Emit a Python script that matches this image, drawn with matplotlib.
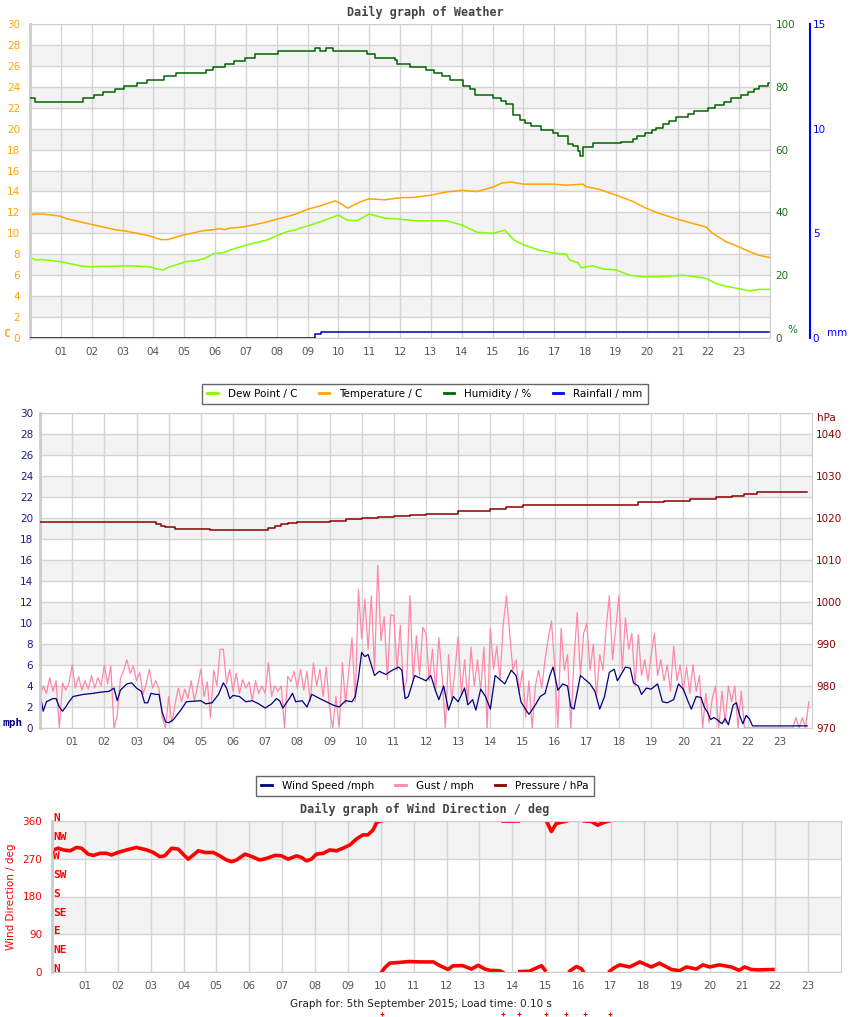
import numpy as np
import matplotlib
matplotlib.use("Agg")
import matplotlib.pyplot as plt
from matplotlib.lines import Line2D

# ---------------- data ----------------
hour_ticks = list(range(1, 24))
hour_labels = ["%02d" % h for h in hour_ticks]

# top chart: temperature / dew point (C), humidity (%), rainfall (mm)
temp_hours = [0.0, 0.13, 0.4, 0.97, 1.19, 1.62, 2.0, 2.38, 2.75, 3.13, 3.56, 3.89, 4.1, 4.26,
              4.48, 4.64, 4.91, 5.24, 5.61, 5.94, 6.16, 6.32, 6.48, 6.91, 7.24, 7.56, 7.88,
              8.21, 8.53, 8.75, 9.0, 9.5, 9.9, 10.1, 10.3, 10.7, 11.0, 11.5, 12.0, 12.5, 13.0,
              13.5, 14.0, 14.5, 15.0, 15.3, 15.6, 16.0, 16.5, 17.0, 17.39, 17.93, 18.04,
              18.47, 19.01, 19.55, 19.98, 20.41, 20.95, 21.49, 21.93, 22.14, 22.57, 23.0,
              23.33, 23.65, 23.98]
temp_vals = [11.75, 11.85, 11.85, 11.65, 11.4, 11.1, 10.85, 10.6, 10.35, 10.2, 9.95, 9.75, 9.55,
             9.4, 9.4, 9.55, 9.8, 10.0, 10.25, 10.35, 10.45, 10.35, 10.5, 10.6, 10.8, 11.0,
             11.25, 11.5, 11.75, 12.0, 12.3, 12.7, 13.1, 12.8, 12.4, 13.0, 13.3, 13.2, 13.4,
             13.45, 13.65, 13.95, 14.1, 14.0, 14.4, 14.8, 14.9, 14.7, 14.7, 14.7, 14.6, 14.7,
             14.45, 14.2, 13.65, 13.05, 12.4, 11.9, 11.4, 10.95, 10.6, 10.0, 9.2, 8.7, 8.25,
             7.9, 7.7]

dew_hours = [0.0, 0.1, 0.18, 0.4, 0.97, 1.3, 1.62, 1.94, 2.27, 2.7, 3.13, 3.56, 3.89, 4.1, 4.32,
             4.48, 4.75, 5.07, 5.4, 5.67, 5.94, 6.26, 6.59, 6.97, 7.24, 7.67, 7.99, 8.32, 8.64,
             8.75, 9.0, 9.5, 10.0, 10.3, 10.6, 11.0, 11.5, 12.0, 12.5, 13.0, 13.5, 14.0, 14.5,
             15.0, 15.4, 15.7, 16.0, 16.5, 17.0, 17.39, 17.5, 17.77, 17.88, 18.04, 18.25,
             18.58, 19.01, 19.44, 19.87, 20.3, 20.74, 21.17, 21.6, 21.93, 22.25, 22.57, 23.0,
             23.33, 23.65, 23.98]
dew_vals = [7.6, 7.6, 7.45, 7.5, 7.3, 7.1, 6.9, 6.8, 6.85, 6.85, 6.9, 6.85, 6.8, 6.6, 6.5,
            6.75, 7.0, 7.3, 7.4, 7.6, 8.05, 8.15, 8.5, 8.85, 9.05, 9.35, 9.75, 10.15, 10.35,
            10.5, 10.7, 11.2, 11.75, 11.25, 11.2, 11.85, 11.45, 11.35, 11.2, 11.2, 11.2, 10.8,
            10.1, 10.0, 10.3, 9.35, 8.9, 8.4, 8.1, 8.0, 7.45, 7.2, 6.7, 6.8, 6.9, 6.6, 6.5,
            6.0, 5.85, 5.85, 5.9, 6.0, 5.85, 5.7, 5.2, 4.95, 4.7, 4.5, 4.65, 4.65]

hum_hours = [0.0, 0.15, 1.73, 2.06, 2.375, 2.75, 3.06, 3.46, 3.78, 4.35, 4.72, 5.72, 5.94, 6.34,
             6.62, 6.97, 7.3, 8.05, 9.24, 9.4, 9.6, 9.83, 10.93, 11.18, 11.83, 11.9, 12.31,
             12.83, 13.1, 13.37, 13.61, 14.04, 14.26, 14.42, 15.01, 15.28, 15.45, 15.66, 15.88,
             16.04, 16.26, 16.58, 16.96, 17.12, 17.44, 17.6, 17.77, 17.85, 17.93, 18.25, 19.17,
             19.55, 19.68, 19.93, 20.18, 20.3, 20.52, 20.72, 20.95, 21.33, 21.55, 21.98, 22.22,
             22.52, 22.74, 23.06, 23.28, 23.49, 23.65, 23.92, 23.98]
hum_vals = [76.3, 75.1, 76.3, 77.3, 78.2, 79.2, 80.2, 81.1, 82.1, 83.3, 84.3, 85.3, 86.2, 87.2,
            88.1, 89.1, 90.3, 91.3, 92.2, 91.3, 92.2, 91.3, 90.3, 89.1, 88.4, 87.3, 86.3,
            85.4, 84.3, 83.3, 82.3, 80.3, 79.2, 77.3, 76.3, 75.5, 74.5, 71.0, 69.5, 68.5,
            67.6, 66.2, 65.2, 64.3, 61.9, 61.1, 59.5, 58.0, 60.9, 62.0, 62.4, 63.5, 64.3,
            65.2, 66.2, 67.0, 68.0, 69.2, 70.3, 71.3, 72.3, 73.2, 74.2, 75.2, 76.4, 77.3,
            78.3, 79.2, 80.3, 81.1, 81.1]

rain_hours = [0.0, 9.25, 9.45, 23.98]
rain_vals = [0.0, 0.2, 0.3, 0.3]

# middle chart: wind speed, gust (mph), pressure (hPa)
wind_hours = [0.0, 0.03, 0.1, 0.2, 0.4, 0.5, 0.6, 0.7, 0.8, 0.9, 1.03, 1.35, 1.65, 1.85, 2.15,
              2.3, 2.4, 2.5, 2.7, 2.85, 3.0, 3.15, 3.25, 3.35, 3.45, 3.6, 3.7, 3.8, 3.9, 4.0,
              4.15, 4.25, 4.4, 4.55, 5.0, 5.15, 5.35, 5.55, 5.7, 5.8, 5.9, 6.0, 6.2, 6.4, 6.6,
              6.8, 7.0, 7.2, 7.35, 7.45, 7.55, 7.75, 7.85, 7.95, 8.15, 8.3, 8.45, 8.7, 8.9, 9.1,
              9.3, 9.5, 9.7, 9.8, 9.9, 10.0, 10.1, 10.2, 10.4, 10.55, 10.75, 10.95, 11.15,
              11.25, 11.35, 11.45, 11.65, 12.0, 12.15, 12.3, 12.4, 12.55, 12.65, 12.7, 12.85,
              13.0, 13.2, 13.3, 13.45, 13.55, 13.7, 13.85, 14.0, 14.15, 14.3, 14.45, 14.65,
              14.8, 14.95, 15.05, 15.2, 15.4, 15.55, 15.7, 15.85, 15.95, 16.1, 16.25, 16.4,
              16.5, 16.6, 16.8, 16.95, 17.1, 17.25, 17.4, 17.55, 17.7, 17.85, 17.95, 18.2,
              18.35, 18.45, 18.6, 18.7, 18.85, 19.0, 19.2, 19.35, 19.5, 19.7, 19.85, 20.0,
              20.15, 20.25, 20.4, 20.55, 20.65, 20.75, 20.85, 20.95, 21.05, 21.2, 21.3, 21.4,
              21.55, 21.65, 21.75, 21.85, 21.95, 22.05, 22.15, 23.85]
wind_vals = [2.0, 2.8, 1.6, 2.5, 2.8, 2.8, 2.0, 1.6, 2.0, 2.5, 3.0, 3.2, 3.3, 3.4, 3.5,
             3.8, 2.6, 3.6, 4.2, 4.3, 3.8, 3.5, 2.4, 2.4, 3.3, 3.2, 3.2, 1.5, 0.6, 0.5,
             0.8, 1.2, 1.8, 2.5, 2.6, 2.3, 2.4, 3.2, 4.3, 3.8, 2.8, 3.1, 3.0, 2.5, 2.6,
             2.3, 1.9, 2.3, 2.8, 2.6, 1.9, 2.8, 3.3, 2.5, 2.6, 2.0, 3.2, 2.8, 2.5, 2.2,
             2.0, 2.6, 2.5, 3.0, 4.8, 7.2, 6.8, 7.0, 5.0, 5.4, 5.1, 5.5, 5.8,
             5.5, 2.8, 3.0, 5.0, 4.5, 5.0, 3.5, 2.7, 4.0, 2.5, 1.7, 3.0,
             2.5, 3.8, 2.2, 2.7, 1.7, 3.7, 3.0, 1.8, 5.0, 4.6, 4.2, 5.5,
             5.0, 2.5, 2.0, 1.3, 2.2, 3.0, 3.3, 5.0, 5.8, 3.6, 4.2, 4.0,
             2.0, 1.8, 5.0, 4.6, 4.2, 3.5, 1.8, 3.0, 5.3, 5.6, 4.5, 5.8,
             5.7, 4.3, 4.0, 3.2, 3.8, 3.7, 4.2, 2.5, 2.4, 2.7, 4.2, 3.7,
             2.5, 1.8, 3.0, 2.9, 2.0, 1.5, 0.8, 1.0, 0.8, 0.4, 0.9, 0.3,
             2.2, 2.4, 1.2, 0.4, 1.2, 0.9, 0.2, 0.2]

gust_vals = [3.0, 4.0, 3.3, 4.8, 3.5, 4.5, 0.0, 4.3, 3.6, 4.3,
             6.0, 3.8, 4.9, 3.6, 4.5, 3.7, 5.0, 3.8, 4.8, 4.0,
             6.0, 4.2, 5.9, 0.0, 1.2, 4.7, 5.5, 6.5, 5.2, 5.9,
             4.5, 5.3, 3.2, 4.2, 5.6, 3.8, 4.5, 3.7, 1.0, 0.0,
             3.0, 0.5, 2.3, 3.8, 2.5, 3.7, 2.8, 4.5, 2.6, 4.0,
             5.6, 3.0, 4.4, 1.0, 5.5, 4.0, 7.5, 7.5, 4.2, 5.6,
             3.5, 5.2, 3.3, 4.6, 3.8, 4.4, 2.6, 4.5, 3.3, 4.0,
             3.3, 6.2, 3.0, 4.0, 3.5, 4.0, 0.0, 4.9, 4.4, 5.4,
             3.8, 5.6, 3.6, 5.4, 2.5, 6.2, 4.0, 5.6, 3.0, 5.8,
             2.0, 0.0, 3.0, 0.0, 6.2, 2.3, 5.5, 8.6, 2.5, 13.2,
             8.5, 12.3, 7.5, 12.6, 5.5, 15.5, 8.3, 10.6, 4.6, 10.8,
             10.7, 5.5, 9.8, 3.6, 4.5, 12.6, 4.5, 8.8, 5.0, 9.6,
             9.0, 4.5, 7.5, 3.5, 8.6, 5.0, 0.0, 7.0, 2.6, 5.5,
             8.7, 3.2, 6.5, 2.5, 7.7, 4.0, 6.5, 3.5, 7.7, 0.0,
             9.5, 5.6, 7.8, 4.5, 9.8, 12.6, 9.0, 5.5, 6.5, 3.5,
             5.5, 1.0, 4.5, 0.0, 4.0, 5.5, 3.8, 6.5, 8.5, 10.2,
             6.0, 0.0, 9.5, 5.5, 7.0, 0.0, 6.5, 11.0, 5.0, 9.0,
             10.0, 5.5, 8.0, 3.0, 7.0, 5.5, 9.5, 12.6, 6.5, 9.5,
             12.6, 5.5, 10.5, 7.5, 9.0, 4.0, 8.9, 5.0, 6.5, 4.5,
             7.0, 9.0, 5.0, 6.5, 4.5, 6.0, 3.5, 7.8, 4.5, 6.0,
             3.5, 5.8, 3.3, 6.0, 3.5, 5.0, 0.0, 3.3, 0.5, 2.8,
             4.0, 0.0, 3.5, 0.5, 4.0, 2.5, 4.0, 0.0, 3.5, 0.0,
             0.0, 0.0, 0.0, 0.0, 0.0, 0.0, 0.0, 0.0, 0.0, 0.0,
             0.0, 0.0, 0.0, 0.0, 0.0, 1.0, 0.0, 1.0, 0.0, 2.5]
gust_hours = np.arange(len(gust_vals)) * 0.1

pres_hours = [0.0, 3.5, 3.6, 3.75, 3.9, 4.2, 5.3, 6.9, 7.1, 7.3, 7.5, 7.7, 8.0, 9.0, 9.5, 10.0,
              10.5, 11.0, 11.5, 12.0, 13.0, 14.0, 14.5, 15.0, 16.0, 17.0, 17.7, 18.6, 19.4,
              20.2, 21.0, 21.5, 21.9, 22.3, 23.85]
pres_vals = [1019.0, 1019.0, 1018.6, 1018.2, 1017.8, 1017.4, 1017.1, 1017.1, 1017.6, 1018.1,
             1018.5, 1018.8, 1019.0, 1019.4, 1019.7, 1019.9, 1020.2, 1020.5, 1020.8, 1021.0,
             1021.6, 1022.1, 1022.6, 1023.1, 1023.2, 1023.2, 1023.1, 1023.8, 1024.0, 1024.5,
             1025.0, 1025.3, 1025.8, 1026.1, 1026.1]

# bottom chart: wind direction (deg), nan marks a wrap-around break
dir_hours = [0.0, 0.19, 0.35, 0.55, 0.75, 0.9, 1.1, 1.26, 1.46, 1.66, 1.81, 2.0, 2.27, 2.57,
             2.88, 3.08, 3.28, 3.43, 3.64, 3.84, 3.99, 4.14, 4.3, 4.45, 4.65, 4.9, 5.1, 5.31,
             5.46, 5.61, 5.87, 6.12, 6.32, 6.53, 6.78, 6.98, 7.18, 7.44, 7.59, 7.74, 7.89,
             8.04, 8.25, 8.45, 8.65, 8.85, 9.06, 9.26, 9.46, 9.61, 9.77, 9.87, 9.97, 10.0,
             10.01,
             10.03, 10.12, 10.27, 10.58, 10.88, 11.19, 11.6, 11.8, 12.05, 12.2, 12.5, 12.76,
             12.96, 13.17, 13.32, 13.62, 13.7,
             13.71,
             13.72, 14.18,
             14.2,
             14.23, 14.53, 14.63, 14.89, 15.0,
             15.02,
             15.04, 15.19, 15.34, 15.5, 15.65,
             15.7,
             15.75, 15.8, 15.95, 16.1, 16.15,
             16.18,
             16.2, 16.4, 16.6, 16.8, 16.95,
             16.96,
             16.97, 17.1, 17.27, 17.57, 17.88, 18.23, 18.48, 18.84, 19.09, 19.3, 19.6, 19.8,
             20.0, 20.3, 20.66, 20.9, 21.07, 21.27, 21.5, 21.93]
dir_vals = [290, 295, 291, 289, 297, 295, 281, 278, 283, 283, 279, 285, 291, 297,
            291, 285, 275, 277, 295, 293, 281, 269, 279, 289, 285, 285, 277, 267,
            263, 267, 281, 274, 267, 271, 278, 277, 269, 277, 273, 265, 269,
            281, 283, 291, 289, 295, 303, 317, 327, 327, 339, 356, 360, 360,
            np.nan,
            0, 10, 21, 23, 25, 24, 24, 15, 6, 15, 15, 7,
            16, 7, 4, 3, 0,
            np.nan,
            360, 360,
            np.nan,
            1, 2, 6, 15, 4,
            np.nan,
            360, 335, 354, 357, 360,
            np.nan,
            2, 5, 13, 8, 2,
            np.nan,
            360, 359, 350, 357, 360,
            np.nan,
            2, 10, 17, 12, 24, 12, 21, 6, 3, 12, 7, 17,
            12, 17, 12, 4, 12, 6, 5, 6]

# stray readings that fall below the chart
calm_hours = [10.03, 13.71, 14.22, 15.02, 15.65, 16.2, 16.96]
calm_vals = [-100, -100, -100, -100, -100, -100, -100]

# ---------------- plotting ----------------
GRID = "#d4d4d4"
BAND = "#f3f3f3"
TICKC = "#555555"
MONO = "DejaVu Sans Mono"

fig = plt.figure(figsize=(8.5, 10.17), dpi=100)


def base_axes(rect, ymax, step, ycolor, pad):
    ax = fig.add_axes(rect)
    ax.set_xlim(0, 24)
    ax.set_ylim(0, ymax)
    ax.set_xticks(hour_ticks)
    ax.set_xticklabels(hour_labels)
    ax.set_yticks(np.arange(0, ymax + step / 2, step))
    for lo in np.arange(step, ymax, 2 * step):
        ax.axhspan(lo, lo + step, color=BAND, lw=0, zorder=0.1)
    ax.set_axisbelow(True)
    ax.grid(True, color=GRID, lw=1)
    ax.tick_params(axis="x", length=0, pad=6.5, labelsize=7.5, labelcolor=TICKC)
    ax.tick_params(axis="y", length=0, pad=pad, labelsize=7.5, labelcolor=ycolor)
    for s in ax.spines.values():
        s.set_color("#cccccc")
    ax.spines["left"].set_linewidth(2)
    return ax


# --- top chart ---
ax1 = base_axes([30 / 850, 1 - 338 / 1017, 740 / 850, 314 / 1017], 30, 2, "#ffa500", 7)
ax1.plot(dew_hours, dew_vals, color="#7fff00", lw=1.1)
ax1.plot(temp_hours, temp_vals, color="#ffa500", lw=1.1)
ax1.text(-0.036, -0.004, "C", transform=ax1.transAxes, color="#ffa500", fontsize=8,
         fontweight="bold", fontfamily=MONO, ha="left", va="bottom")

ax1h = ax1.twinx()
ax1h.set_ylim(0, 100)
ax1h.set_yticks([0, 20, 40, 60, 80, 100])
ax1h.tick_params(axis="y", length=0, pad=4, labelsize=7.5, labelcolor="#1a6e1a")
for s in ax1h.spines.values():
    s.set_visible(False)
ax1h.plot(hum_hours, hum_vals, color="#006400", lw=1.1, drawstyle="steps-post")
ax1h.text(1.023, 0.008, "%", transform=ax1h.transAxes, color="#1a6e1a", fontsize=7.5,
          ha="left", va="bottom")

ax1r = ax1.twinx()
ax1r.set_ylim(0, 15)
ax1r.set_yticks([0, 5, 10, 15])
for k, s in ax1r.spines.items():
    s.set_visible(k == "right")
ax1r.spines["right"].set_position(("axes", 1.054))
ax1r.spines["right"].set_color("#0000ff")
ax1r.spines["right"].set_linewidth(1.5)
ax1r.tick_params(axis="y", length=0, pad=2, labelsize=7.5, labelcolor="#0000ff")
ax1r.plot(rain_hours, rain_vals, color="#0000b0", lw=1.1, drawstyle="steps-post")
ax1r.text(1.077, 0.0, "mm", transform=ax1r.transAxes, color="#0000ff", fontsize=7.5,
          ha="left", va="bottom")

fig.text(0.5, 1 - 12 / 1017, "Daily graph of Weather", ha="center", va="center",
         fontsize=8.5, fontweight="bold", fontfamily=MONO, color="#444444")

leg1 = [Line2D([], [], color="#7fff00", lw=2), Line2D([], [], color="#ffa500", lw=2),
        Line2D([], [], color="#006400", lw=2), Line2D([], [], color="#0000ff", lw=2)]
fig.legend(leg1, ["Dew Point / C", "Temperature / C", "Humidity / %", "Rainfall / mm"],
           loc="center", bbox_to_anchor=(0.5, 1 - 394 / 1017), ncol=4, fontsize=7.5,
           frameon=True, fancybox=False, edgecolor="#666666", framealpha=1,
           handlelength=1.0, handletextpad=1.0, columnspacing=2.0, borderpad=0.5)

# --- middle chart ---
ax2 = base_axes([40 / 850, 1 - 728 / 1017, 772 / 850, 315 / 1017], 30, 2, "#1c1c8c", 5)
ax2.plot(gust_hours, gust_vals, color="#ff88aa", lw=0.9)
ax2.plot(wind_hours, wind_vals, color="#000080", lw=0.9)
ax2.text(-0.048, 0.0, "mph", transform=ax2.transAxes, color="#000080", fontsize=8,
         fontweight="bold", fontfamily=MONO, ha="left", va="bottom")

ax2p = ax2.twinx()
ax2p.set_ylim(970, 1045)
ax2p.set_yticks([970, 980, 990, 1000, 1010, 1020, 1030, 1040])
ax2p.tick_params(axis="y", length=0, pad=3, labelsize=7.5, labelcolor="#8b0000")
for s in ax2p.spines.values():
    s.set_visible(False)
ax2p.plot(pres_hours, pres_vals, color="#8b0000", lw=1.1, drawstyle="steps-post")
ax2p.text(1.007, 0.985, "hPa", transform=ax2p.transAxes, color="#8b0000", fontsize=7.5,
          ha="left", va="center")

# middle title sits behind the first legend, as in the source page
fig.text(0.5, 1 - 397 / 1017, "Daily graph of Wind / Baro", ha="center", va="center",
         fontsize=8.5, fontweight="bold", fontfamily=MONO, color="#444444")

leg2 = [Line2D([], [], color="#000080", lw=2), Line2D([], [], color="#ff88aa", lw=2),
        Line2D([], [], color="#8b0000", lw=2)]
fig.legend(leg2, ["Wind Speed /mph", "Gust / mph", "Pressure / hPa"],
           loc="center", bbox_to_anchor=(0.5, 1 - 786 / 1017), ncol=3, fontsize=7.5,
           frameon=True, fancybox=False, edgecolor="#666666", framealpha=1,
           handlelength=1.0, handletextpad=1.0, columnspacing=2.0, borderpad=0.5)

# --- bottom chart ---
ax3 = base_axes([52 / 850, 1 - 972 / 1017, 789 / 850, 151 / 1017], 360, 90, "#ff0000", 7)
ax3.plot(dir_hours, dir_vals, color="#ff0000", lw=2.6)
ax3.scatter(calm_hours, calm_vals, marker="+", s=6, color="#ff0000", lw=0.8, clip_on=False)
ax3.set_ylabel("Wind Direction / deg", color="#ff0000", fontsize=7.5, labelpad=5)
compass = ["N", "NW", "W", "SW", "S", "SE", "E", "NE", "N"]
compass_deg = [360, 315, 270, 225, 180, 135, 90, 45, 0]
for lab, d in zip(compass, compass_deg):
    ax3.annotate(lab, (0, d), xytext=(1, 2), textcoords="offset points", color="#ff0000",
                 fontsize=8, fontweight="bold", fontfamily=MONO, ha="left", va="center",
                 annotation_clip=False)

fig.text(0.5, 1 - 809 / 1017, "Daily graph of Wind Direction / deg", ha="center",
         va="center", fontsize=8.5, fontweight="bold", fontfamily=MONO, color="#444444")
fig.text(0.4953, 1 - 1004 / 1017, "Graph for: 5th September 2015; Load time: 0.10 s",
         ha="center", va="center", fontsize=7.5, color="#222222")

fig.savefig("out.png", dpi=100)
